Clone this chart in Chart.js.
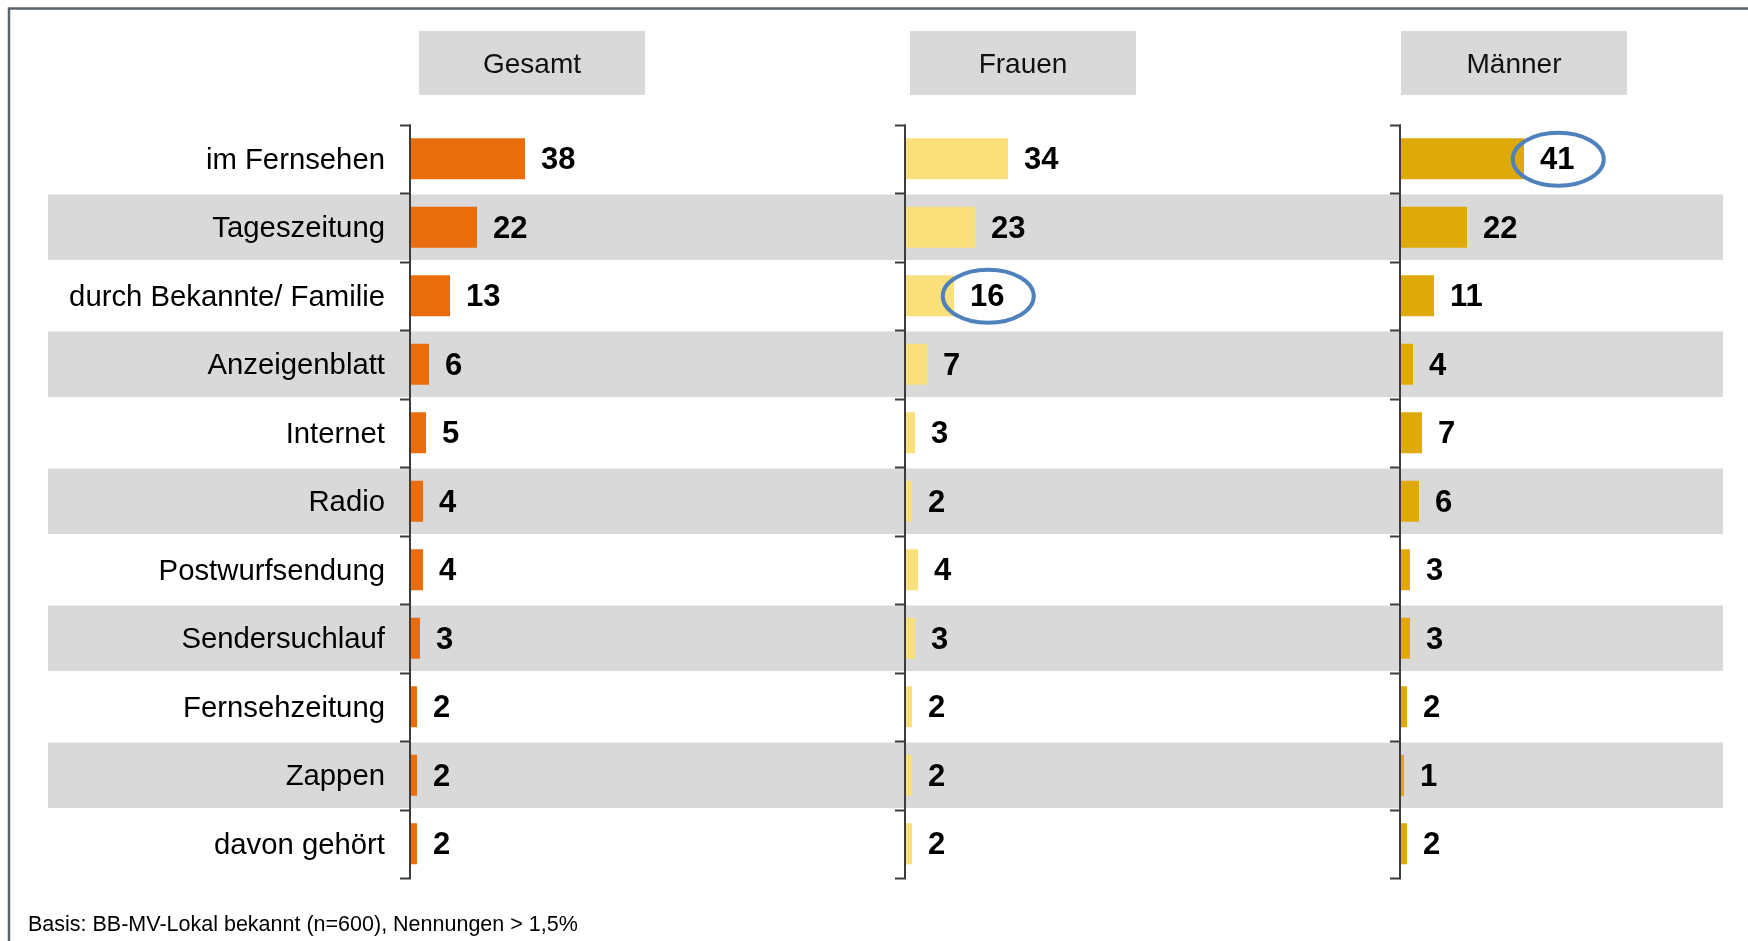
<!DOCTYPE html>
<html>
<head>
<meta charset="utf-8">
<script src="https://cdn.jsdelivr.net/npm/chart.js@4/dist/chart.umd.min.js"></script>
<style>
  html, body { margin: 0; padding: 0; background: #ffffff; }
  #wrap { width: 1748px; height: 941px; }
</style>
</head>
<body>
<div id="wrap"><canvas id="c" width="1748" height="941"></canvas></div>
<script>
// ---- data ----
const categories = ["im Fernsehen", "Tageszeitung", "durch Bekannte/ Familie", "Anzeigenblatt", "Internet", "Radio", "Postwurfsendung", "Sendersuchlauf", "Fernsehzeitung", "Zappen", "davon gehört"];
const seriesNames = ["Gesamt", "Frauen", "Männer"];
const gesamt  = [38, 22, 13, 6, 5, 4, 4, 3, 2, 2, 2];
const frauen  = [34, 23, 16, 7, 3, 2, 4, 3, 2, 2, 2];
const maenner = [41, 22, 11, 4, 7, 6, 3, 3, 2, 1, 2];
const highlightFrauen = [2];   // circled value index
const highlightMaenner = [0];
const footnote = "Basis: BB-MV-Lokal bekannt (n=600), Nennungen > 1,5%";

// ---- styling / layout ----
const FONT = '"Liberation Sans", Arial, Helvetica, sans-serif';
const colors = ["#E96C0D", "#F9E07B", "#E0A90A"];
const PX_PER_UNIT = 3;
const AREA_LEFT = 411, AREA_RIGHT = 1723, AREA_TOP = 124.5, AREA_BOTTOM = 878;
const panelOffsetUnits = [0, 165, 330];
const totalUnits = (AREA_RIGHT - AREA_LEFT) / PX_PER_UNIT;
const headerLeft = [419, 910, 1401];

function xScaleFor(i) {
  return {
    type: 'linear', display: false, axis: 'x',
    min: -panelOffsetUnits[i], max: totalUnits - panelOffsetUnits[i]
  };
}

const decoPlugin = {
  id: 'deco',
  beforeDraw(chart) {
    const ctx = chart.ctx;
    const y = chart.scales.y;
    ctx.save();
    // frame
    ctx.strokeStyle = '#59626A';
    ctx.lineWidth = 2.5;
    ctx.beginPath();
    ctx.moveTo(9, 960); ctx.lineTo(9, 8.5); ctx.lineTo(1760, 8.5);
    ctx.stroke();
    // bands on alternate rows
    const rowH = (y.bottom - y.top) / categories.length;
    ctx.fillStyle = '#D9D9D9';
    categories.forEach((c, i) => {
      if (i % 2 === 1) {
        const cy = y.getPixelForValue(i);
        ctx.fillRect(48, cy - rowH / 2 + 1.5, 1723 - 48, rowH - 3);
      }
    });
    // headers
    seriesNames.forEach((n, i) => {
      ctx.fillStyle = '#D9D9D9';
      ctx.fillRect(headerLeft[i], 31, 226, 64);
      ctx.fillStyle = '#111111';
      ctx.font = '28px ' + FONT;
      ctx.textAlign = 'center';
      ctx.textBaseline = 'middle';
      ctx.fillText(n, headerLeft[i] + 113, 65);
    });
    // footnote
    ctx.fillStyle = '#000000';
    ctx.font = '21.5px ' + FONT;
    ctx.textAlign = 'left';
    ctx.textBaseline = 'middle';
    ctx.fillText(footnote, 28, 925);
    ctx.restore();
  },
  afterDatasetsDraw(chart) {
    const ctx = chart.ctx;
    const y = chart.scales.y;
    const rowH = (y.bottom - y.top) / categories.length;
    ctx.save();
    // bracket axes
    ['xG', 'xF', 'xM'].forEach(id => {
      const x0 = chart.scales[id].getPixelForValue(0) - 1;
      ctx.strokeStyle = '#3C3C3C';
      ctx.lineWidth = 2;
      ctx.beginPath();
      ctx.moveTo(x0, y.top); ctx.lineTo(x0, y.bottom);
      ctx.stroke();
      for (let k = 0; k <= categories.length; k++) {
        const ty = Math.round(y.top + k * rowH) + 0.5;
        ctx.beginPath();
        ctx.moveTo(x0 - 10, ty); ctx.lineTo(x0 + 1, ty);
        ctx.stroke();
      }
    });
    // value labels
    ctx.font = 'bold 31px ' + FONT;
    ctx.fillStyle = '#000000';
    ctx.textAlign = 'left';
    ctx.textBaseline = 'middle';
    chart.data.datasets.forEach((ds, di) => {
      const meta = chart.getDatasetMeta(di);
      meta.data.forEach((el, i) => {
        const txt = String(ds.data[i]);
        const tx = el.x + 16;
        ctx.fillText(txt, tx, el.y + 2);
        if (ds.highlight && ds.highlight.includes(i)) {
          const w = ctx.measureText(txt).width;
          ctx.save();
          ctx.strokeStyle = '#4F81BD';
          ctx.lineWidth = 4;
          ctx.beginPath();
          ctx.ellipse(tx + w / 2 + 1, el.y + 0.5, 45.5, 26.5, 0, 0, Math.PI * 2);
          ctx.stroke();
          ctx.restore();
        }
      });
    });
    ctx.restore();
  }
};

const common = { grouped: false, barPercentage: 0.6, categoryPercentage: 1.0, borderWidth: 0 };

new Chart(document.getElementById('c'), {
  type: 'bar',
  data: {
    labels: categories,
    datasets: [
      Object.assign({ label: seriesNames[0], data: gesamt, backgroundColor: colors[0], xAxisID: 'xG' }, common),
      Object.assign({ label: seriesNames[1], data: frauen, backgroundColor: colors[1], xAxisID: 'xF', highlight: highlightFrauen }, common),
      Object.assign({ label: seriesNames[2], data: maenner, backgroundColor: colors[2], xAxisID: 'xM', highlight: highlightMaenner }, common)
    ]
  },
  options: {
    indexAxis: 'y',
    responsive: false,
    devicePixelRatio: 1,
    animation: false,
    layout: { padding: { top: AREA_TOP, bottom: 941 - AREA_BOTTOM, left: 0, right: 1748 - AREA_RIGHT } },
    plugins: { legend: { display: false }, tooltip: { enabled: false } },
    scales: {
      xG: xScaleFor(0),
      xF: xScaleFor(1),
      xM: xScaleFor(2),
      y: {
        type: 'category',
        position: 'left',
        grid: { display: false, drawTicks: false },
        border: { display: false },
        ticks: { autoSkip: false, padding: 26, labelOffset: 2, color: '#000000', font: { family: FONT, size: 29.3 } },
        afterFit(scale) { scale.width = AREA_LEFT; }
      }
    }
  },
  plugins: [decoPlugin]
});
</script>
</body>
</html>
